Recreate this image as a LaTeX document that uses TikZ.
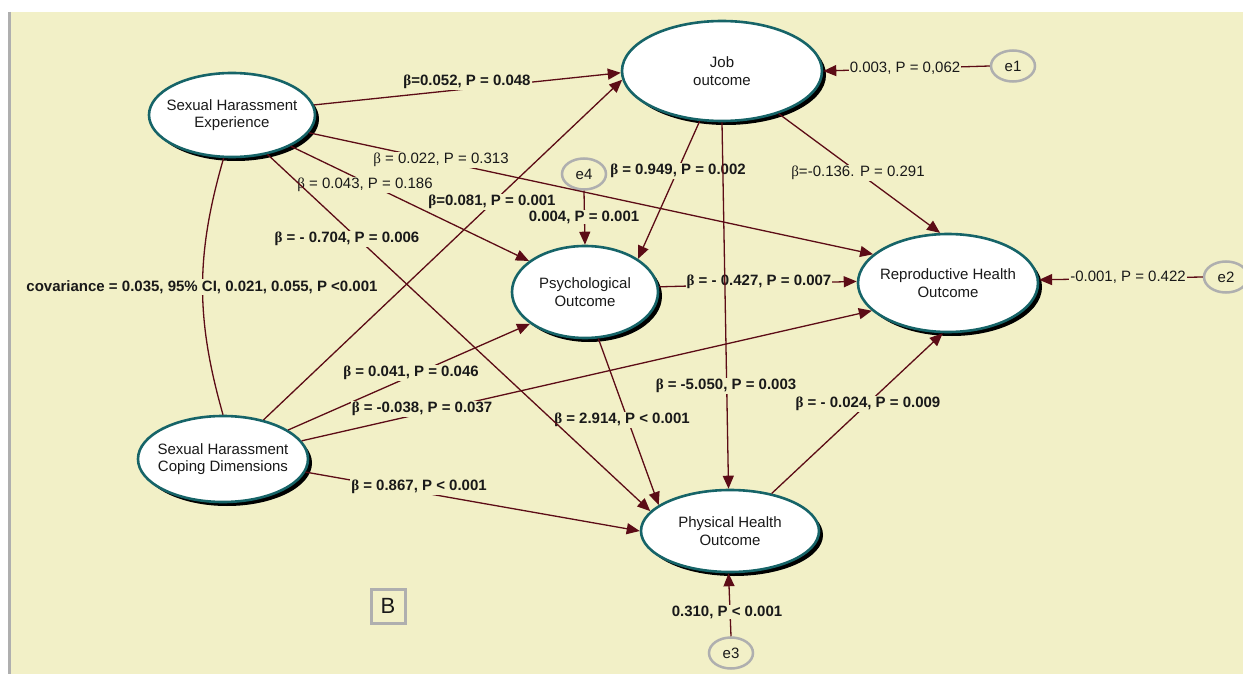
\documentclass[tikz,border=0pt]{standalone}
\usepackage{fontspec}
\setmainfont{Liberation Sans}
\newfontfamily\grk{Liberation Serif}
\newcommand{\bb}{{\grk β}}
\newcommand{\nodefont}{\fontsize{15}{17.5}\selectfont}
\newcommand{\lblfont}{\fontsize{15}{18}\selectfont}
\usetikzlibrary{shapes.geometric,arrows.meta,shadows}
\definecolor{bg}{RGB}{242,240,199}
\definecolor{arr}{RGB}{92,12,22}
\definecolor{tealb}{RGB}{22,100,104}
\definecolor{grayb}{RGB}{175,175,175}
\definecolor{txt}{RGB}{25,25,25}
\tikzset{
  latent/.style={ellipse, draw=tealb, line width=2.6pt, fill=white, inner sep=0pt,
    drop shadow={shadow xshift=4pt, shadow yshift=-4pt, opacity=1, fill=black}},
  lt/.style={align=center, font=\nodefont, text=txt},
  err/.style={ellipse, draw=grayb, line width=2.5pt, fill=bg, inner sep=0pt,
    minimum width=44pt, minimum height=31pt, font=\nodefont, text=txt},
  ed/.style={draw=arr, line width=1.3pt, -{Triangle[length=13pt,width=11pt]}},
  cov/.style={draw=arr, line width=1.3pt},
  lb/.style={fill=bg, inner sep=1pt, text=txt, font={\lblfont\bfseries}},
  ln/.style={fill=bg, inner sep=1pt, text=txt, font=\lblfont},
}
\begin{document}
\begin{tikzpicture}[x=1pt,y=-1pt]
\useasboundingbox (0,0) rectangle (1243,674);
\fill[white] (0,0) rectangle (1243,674);
\fill[bg] (10,12) rectangle (1243,674);
\draw[grayb, line width=3pt] (9,12) -- (9,674);

% latent nodes
\node[latent, minimum width=166pt, minimum height=84pt,
  label={[lt]center:Sexual Harassment\\Experience}] (she) at (232,115) {};
\node[latent, minimum width=200pt, minimum height=100pt,
  label={[lt]center:Job\\outcome}] (job) at (722,71) {};
\node[latent, minimum width=146pt, minimum height=92pt,
  label={[lt]center:Psychological\\Outcome}] (psy) at (585,292) {};
\node[latent, minimum width=180pt, minimum height=98pt,
  label={[lt]center:Reproductive Health\\Outcome}] (rep) at (948,283) {};
\node[latent, minimum width=170pt, minimum height=86pt,
  label={[lt]center:Sexual Harassment\\Coping Dimensions}] (shcd) at (223,459) {};
\node[latent, minimum width=178pt, minimum height=82pt,
  label={[lt]center:Physical Health\\Outcome}] (phy) at (730,531) {};

% error nodes
\node[err] (e1) at (1013,66) {e1};
\node[err] (e2) at (1226,277) {e2};
\node[err] (e3) at (731,653) {e3};
\node[err] (e4) at (584,174) {e4};

% covariance
\draw[cov] (she.259) to[bend right=16] (shcd.90);
\node[lb] (lcov) at (202,287) {covariance = 0.035, 95\% CI, 0.021, 0.055, P <0.001};

% paths
\draw[ed] (she.7) -- (job.181);
\node[lb] (l1) at (467,82) {\bb=0.052, P = 0.048};
\draw[ed] (she.347) -- (rep.159);
\node[ln] (l2) at (441,160) {\bb{} = 0.022, P = 0.313};
\draw[ed] (she.332) -- (psy.151);
\node[ln] (l3) at (365,185) {\bb{} = 0.043, P = 0.186};
\draw[ed] (shcd.44) -- (job.185);
\node[lb] (l4) at (492,202) {\bb=0.081, P = 0.001};
\draw[ed] (shcd.24) -- (psy.210);
\node[lb] (l5) at (411,373) {\bb{} = 0.041, P = 0.046};
\draw[ed] (shcd.13) -- (rep.200);
\node[lb] (l6) at (422,409) {\bb{} = -0.038, P = 0.037};
\draw[ed] (shcd.351) -- (phy.180);
\node[lb] (l7) at (419,487) {\bb{} = 0.867, P < 0.001};
\draw[ed] (job.246) -- (psy.32);
\node[lb] (l8) at (678,171) {\bb{} = 0.949, P = 0.002};
\draw[ed] (psy.4) -- (rep.179);
\node[lb] (l9) at (759,282) {\bb{} = - 0.427, P = 0.007};
\draw[ed] (psy.286) -- (phy.160);
\node[lb] (l10) at (622,420) {\bb{} = 2.914, P < 0.001};
\draw[ed] (she.312) -- (phy.166);
\node[lb] (l11) at (347,239) {\bb{} = - 0.704, P = 0.006};
\draw[ed] (job.270) -- (phy.92);
\node[lb] (l12) at (726,386) {\bb{} = -5.050, P = 0.003};
\draw[ed] (job.323) -- (rep.99);
\node[ln] (l13) at (858,173) {\bb=-0.136. P = 0.291};
\draw[ed] (phy.42) -- (rep.264);
\node[lb] (l14) at (868,404) {\bb{} = - 0.024, P = 0.009};

% error paths
\draw[ed] (e1.180) -- (job.0);
\node[ln] (le1) at (905,68) {0.003, P = 0,062};
\draw[ed] (e2.180) -- (rep.2);
\node[ln] (le2) at (1128,277) {-0.001, P = 0.422};
\draw[ed] (e3.90) -- (phy.268);
\node[lb] (le3) at (727,612) {0.310, P < 0.001};
\draw[ed] (e4.270) -- (psy.90);
\node[lb] (le4) at (584,217) {0.004, P = 0.001};

% panel letter
\node[draw=grayb, line width=3pt, minimum size=34pt, inner sep=0pt,
  font=\fontsize{22}{22}\selectfont, text=txt] (B) at (388,606) {B};
\end{tikzpicture}
\end{document}
